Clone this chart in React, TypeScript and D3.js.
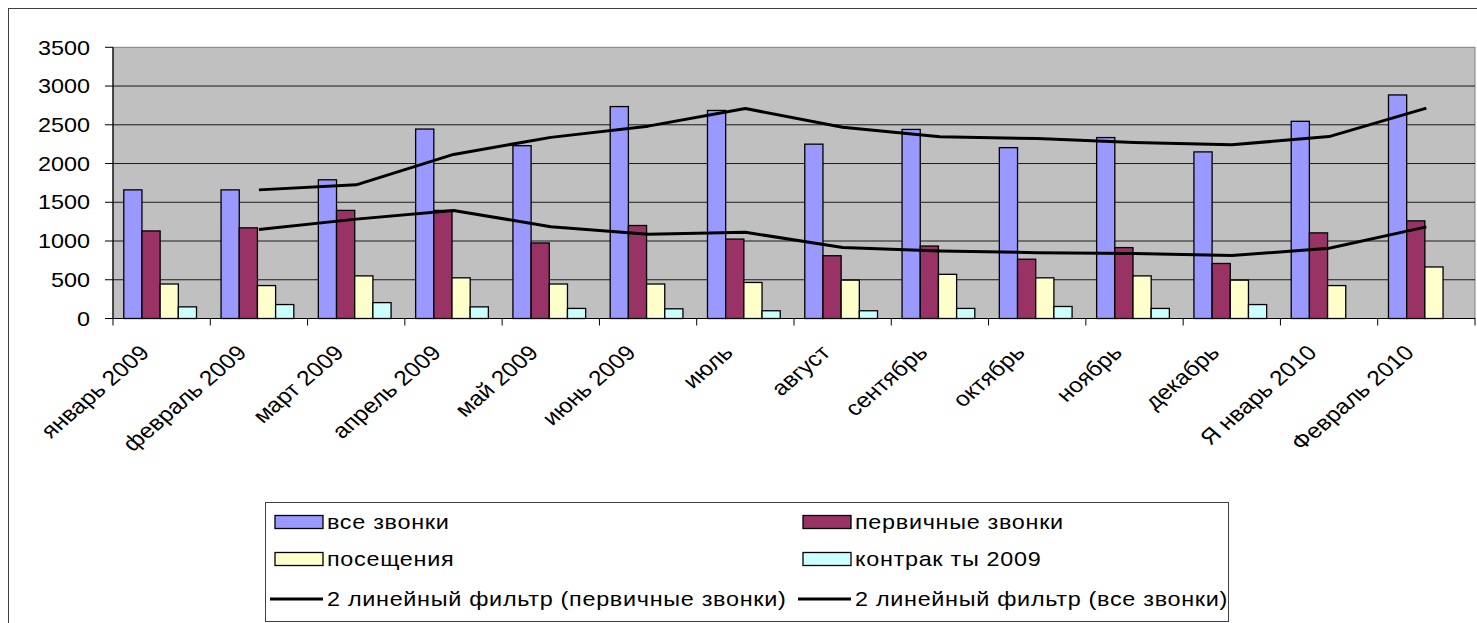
import React from "react";
import * as d3 from "d3";

const categories = [
  "январь 2009", "февраль 2009", "март 2009", "апрель 2009", "май 2009", "июнь 2009",
  "июль", "август", "сентябрь", "октябрь", "ноябрь", "декабрь", "Я нварь 2010", "Февраль 2010",
];
const allCalls = [1660, 1660, 1790, 2445, 2230, 2735, 2685, 2250, 2440, 2205, 2335, 2150, 2545, 2885];
const primaryCalls = [1130, 1170, 1395, 1395, 975, 1200, 1025, 810, 935, 765, 915, 710, 1105, 1260];
const visits = [445, 425, 550, 525, 445, 445, 465, 495, 570, 525, 550, 495, 425, 665];
const contracts: (number | null)[] = [150, 180, 205, 150, 130, 125, 100, 100, 130, 155, 130, 180, null, null];
const yTicks = [0, 500, 1000, 1500, 2000, 2500, 3000, 3500];

const seriesNames = ["все звонки", "первичные звонки", "посещения", "контрак ты 2009"];
const seriesColors = ["#9999FF", "#993366", "#FFFFCC", "#CCFFFF"];
const trendNames = ["2 линейный фильтр (первичные звонки)", "2 линейный фильтр (все звонки)"];

const W = 1477;
const H = 623;
const K = 1.17; // horizontal text stretch
const FONT = "'Liberation Sans', Arial, sans-serif";

function movingAverage(vals: number[]): { i: number; v: number }[] {
  const out: { i: number; v: number }[] = [];
  for (let i = 1; i < vals.length; i++) out.push({ i, v: (vals[i - 1] + vals[i]) / 2 });
  return out;
}

export default function App() {
  const left = 113, right = 1475, top = 47.3, bottom = 318.5;
  const x = d3.scaleBand<string>().domain(categories).range([left, right]).padding(0);
  const y = d3.scaleLinear().domain([0, 3500]).range([bottom, top]);
  const band = x.bandwidth();
  const barW = band / (4 + 1.35);
  const offset = (band - 4 * barW) / 2 - 1.5;
  const series = [allCalls, primaryCalls, visits, contracts];

  const line = d3
    .line<{ i: number; v: number }>()
    .x((d) => (x(categories[d.i]) as number) + band / 2)
    .y((d) => y(d.v));

  const trends = [movingAverage(primaryCalls), movingAverage(allCalls)];

  const legendItems = [
    { kind: "rect", name: seriesNames[0], color: seriesColors[0], col: 0, row: 0 },
    { kind: "rect", name: seriesNames[1], color: seriesColors[1], col: 1, row: 0 },
    { kind: "rect", name: seriesNames[2], color: seriesColors[2], col: 0, row: 1 },
    { kind: "rect", name: seriesNames[3], color: seriesColors[3], col: 1, row: 1 },
    { kind: "line", name: trendNames[0], color: "#000", col: 0, row: 2 },
    { kind: "line", name: trendNames[1], color: "#000", col: 1, row: 2 },
  ];
  const legX = 265, legY = 502, legW = 963, legH = 119;
  const colX = [270, 798];
  const rowY = [522, 559, 599];

  return (
    <svg
      width={W}
      height={H}
      style={{ position: "absolute", left: 0, top: 0, display: "block", background: "#fff" }}
      fontFamily={FONT}
    >
      <rect x={8.5} y={8.5} width={W + 10} height={H + 10} fill="#fff" stroke="#404040" strokeWidth={1} />
      {/* plot area */}
      <rect x={left} y={top} width={right - left} height={bottom - top} fill="#C0C0C0" stroke="#808080" strokeWidth={1} />
      {yTicks.slice(1, -1).map((t) => (
        <line key={t} x1={left} x2={right} y1={y(t)} y2={y(t)} stroke="#1a1a1a" strokeWidth={1} />
      ))}
      {/* bars */}
      {categories.map((c, ci) => (
        <g key={c}>
          {series.map((s, si) => {
            const v = s[ci];
            if (v == null) return null;
            const bx = (x(c) as number) + offset + si * barW;
            return (
              <rect
                key={si}
                x={bx}
                y={y(v)}
                width={barW}
                height={y(0) - y(v)}
                fill={seriesColors[si]}
                stroke="#000"
                strokeWidth={1.3}
              />
            );
          })}
        </g>
      ))}
      {/* trend lines */}
      {trends.map((t, i) => (
        <path key={i} d={line(t) || ""} fill="none" stroke="#000" strokeWidth={3} strokeLinejoin="round" />
      ))}
      {/* axes */}
      <line x1={left} x2={left} y1={top} y2={bottom} stroke="#000" strokeWidth={1.2} />
      <line x1={left} x2={right} y1={bottom} y2={bottom} stroke="#000" strokeWidth={1.2} />
      {yTicks.map((t) => (
        <g key={t}>
          <line x1={left - 8} x2={left} y1={y(t)} y2={y(t)} stroke="#000" strokeWidth={1} />
          <g transform={`translate(90,${y(t)}) scale(${K},1)`}>
            <text textAnchor="end" dy="0.36em" fontSize={20} fill="#000">
              {t}
            </text>
          </g>
        </g>
      ))}
      {categories.map((c) => (
        <line key={c} x1={x(c) as number} x2={x(c) as number} y1={bottom} y2={bottom + 7} stroke="#000" strokeWidth={1} />
      ))}
      <line x1={right} x2={right} y1={bottom} y2={bottom + 7} stroke="#000" strokeWidth={1} />
      {categories.map((c) => {
        const cx = (x(c) as number) + band / 2;
        return (
          <g key={c} transform={`translate(${cx - 11},${354}) scale(${K},1) rotate(-45)`}>
            <text textAnchor="end" fontSize={21} fill="#000">
              {c}
            </text>
          </g>
        );
      })}
      {/* legend */}
      <rect x={legX + 0.5} y={legY + 0.5} width={legW} height={legH} fill="#fff" stroke="#404040" strokeWidth={1} />
      {legendItems.map((it, i) => {
        const lx = colX[it.col];
        const ly = rowY[it.row];
        return (
          <g key={i}>
            {it.kind === "rect" ? (
              <rect x={lx + 5} y={ly - 6.5} width={48} height={13} fill={it.color} stroke="#000" strokeWidth={1.3} />
            ) : (
              <line x1={lx} x2={lx + 53} y1={ly} y2={ly} stroke="#000" strokeWidth={3} />
            )}
            <g transform={`translate(${lx + 57},${ly}) scale(${K},1)`}>
              <text dy="0.36em" fontSize={20} letterSpacing={0.6} fill="#000">
                {it.name}
              </text>
            </g>
          </g>
        );
      })}
    </svg>
  );
}
